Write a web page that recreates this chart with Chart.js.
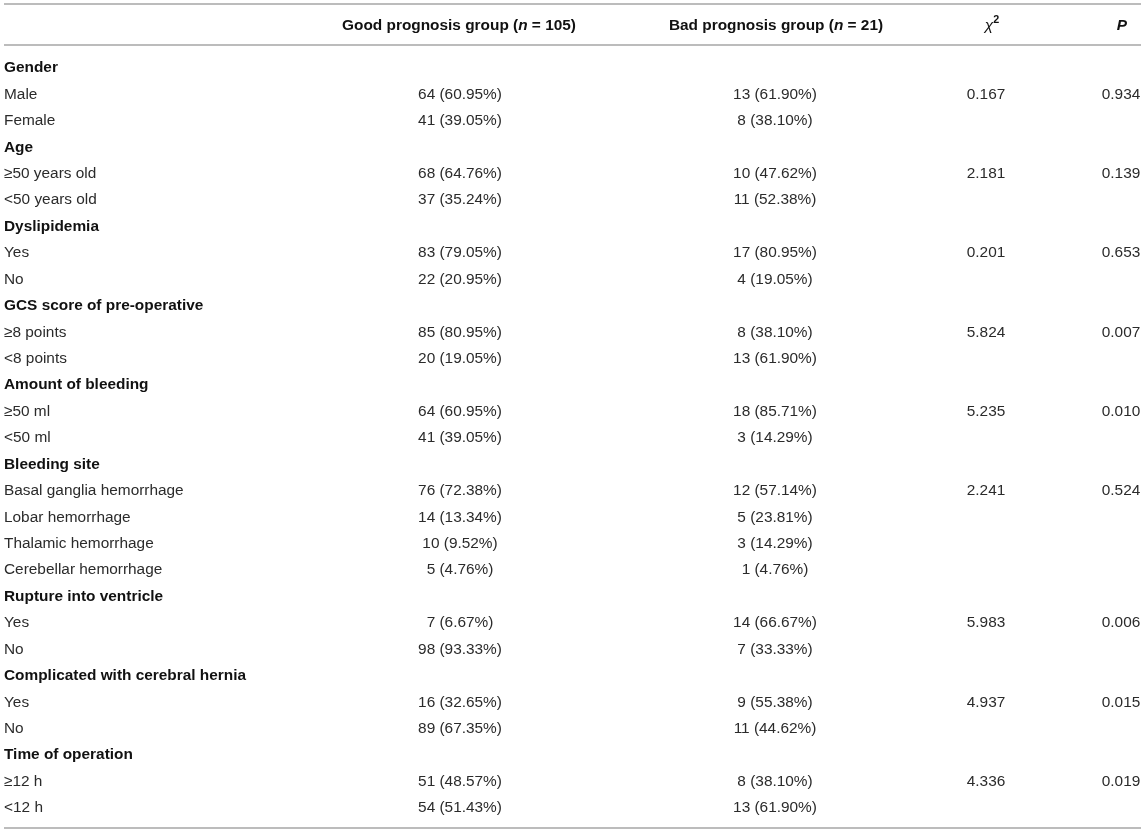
<!DOCTYPE html>
<html>
<head>
<meta charset="utf-8">
<script src="https://cdn.jsdelivr.net/npm/chart.js@4.4.0/dist/chart.umd.min.js"></script>
<style>
  html, body { margin: 0; padding: 0; background: #fff; font-family: Arial, "Liberation Sans", sans-serif; }
  #wrap { width: 1145px; height: 832px; position: relative; }
</style>
</head>
<body>
<div id="wrap"><canvas id="chart"></canvas></div>
<script>
// table rows (top to bottom)
const rowLabels = [
  "Gender", "Male", "Female",
  "Age", "≥50 years old", "<50 years old",
  "Dyslipidemia", "Yes", "No",
  "GCS score of pre-operative", "≥8 points", "<8 points",
  "Amount of bleeding", "≥50 ml", "<50 ml",
  "Bleeding site", "Basal ganglia hemorrhage", "Lobar hemorrhage", "Thalamic hemorrhage", "Cerebellar hemorrhage",
  "Rupture into ventricle", "Yes", "No",
  "Complicated with cerebral hernia", "Yes", "No",
  "Time of operation", "≥12 h", "<12 h"
];
const headingRows = [0, 3, 6, 9, 12, 15, 20, 23, 26];

const goodCount = [null, 64, 41, null, 68, 37, null, 83, 22, null, 85, 20, null, 64, 41, null, 76, 14, 10, 5, null, 7, 98, null, 16, 89, null, 51, 54];
const goodPct   = [null, 60.95, 39.05, null, 64.76, 35.24, null, 79.05, 20.95, null, 80.95, 19.05, null, 60.95, 39.05, null, 72.38, 13.34, 9.52, 4.76, null, 6.67, 93.33, null, 32.65, 67.35, null, 48.57, 51.43];
const badCount  = [null, 13, 8, null, 10, 11, null, 17, 4, null, 8, 13, null, 18, 3, null, 12, 5, 3, 1, null, 14, 7, null, 9, 11, null, 8, 13];
const badPct    = [null, 61.90, 38.10, null, 47.62, 52.38, null, 80.95, 19.05, null, 38.10, 61.90, null, 85.71, 14.29, null, 57.14, 23.81, 14.29, 4.76, null, 66.67, 33.33, null, 55.38, 44.62, null, 38.10, 61.90];
const chiSq     = [null, 0.167, null, null, 2.181, null, null, 0.201, null, null, 5.824, null, null, 5.235, null, null, 2.241, null, null, null, null, 5.983, null, null, 4.937, null, null, 4.336, null];
const pValue    = [null, 0.934, null, null, 0.139, null, null, 0.653, null, null, 0.007, null, null, 0.010, null, null, 0.524, null, null, null, null, 0.006, null, null, 0.015, null, null, 0.019, null];

const goodTotal = 105;
const badTotal = 21;

// layout (row units on y, pixels on x)
const colX = { label: 4, good: 460, bad: 775, chi: 986, p: 1121 };
const headerRow = -1.6;
const ruleRows = [-2.42, -0.87, 28.75];
const FONT = "Arial, 'Liberation Sans', Helvetica, sans-serif";
const SIZE = 15.4;

const fmtCell = (n, pct) => n == null ? "" : n + " (" + pct.toFixed(2) + "%)";
const fmtNum = v => v == null ? "" : v.toFixed(3);

function pointsFor(x, texts) {
  return texts.map((t, i) => ({ x: x, y: i, text: t })).filter(d => d.text !== "");
}

const datasets = [
  { label: "label", align: "left", data: rowLabels.map((t, i) => ({ x: colX.label, y: i, text: t, bold: headingRows.includes(i) })) },
  { label: "good", align: "center", data: pointsFor(colX.good, goodCount.map((n, i) => fmtCell(n, goodPct[i]))) },
  { label: "bad", align: "center", data: pointsFor(colX.bad, badCount.map((n, i) => fmtCell(n, badPct[i]))) },
  { label: "chi", align: "center", data: pointsFor(colX.chi, chiSq.map(fmtNum)) },
  { label: "p", align: "center", data: pointsFor(colX.p, pValue.map(fmtNum)) }
].map(d => Object.assign(d, { pointRadius: 0, pointHoverRadius: 0, showLine: false }));

// draws a list of text segments centered at x
function drawSegments(ctx, segs, x, y) {
  let total = 0;
  segs.forEach(s => { ctx.font = s.font; total += ctx.measureText(s.text).width; });
  let cx = x - total / 2;
  segs.forEach(s => {
    ctx.font = s.font;
    ctx.textAlign = "left";
    ctx.fillText(s.text, cx, y + (s.dy || 0));
    cx += ctx.measureText(s.text).width;
  });
}

const tablePlugin = {
  id: "tableText",
  afterDatasetsDraw(chart) {
    const ctx = chart.ctx;
    const xs = chart.scales.x, ys = chart.scales.y;
    ctx.save();
    ctx.textBaseline = "middle";

    // rules
    ctx.strokeStyle = "#bcbcbc";
    ctx.lineWidth = 2;
    ruleRows.forEach(r => {
      const py = Math.round(ys.getPixelForValue(r));
      ctx.beginPath();
      ctx.moveTo(xs.getPixelForValue(4), py);
      ctx.lineTo(xs.getPixelForValue(1141), py);
      ctx.stroke();
    });

    // header
    const hy = ys.getPixelForValue(headerRow);
    const B = "bold " + SIZE + "px " + FONT, BI = "italic bold " + SIZE + "px " + FONT;
    const I = "italic " + SIZE + "px " + FONT;
    ctx.fillStyle = "#111";
    drawSegments(ctx, [{ text: "Good prognosis group (", font: B }, { text: "n", font: BI }, { text: " = " + goodTotal + ")", font: B }], xs.getPixelForValue(colX.good - 1), hy);
    drawSegments(ctx, [{ text: "Bad prognosis group (", font: B }, { text: "n", font: BI }, { text: " = " + badTotal + ")", font: B }], xs.getPixelForValue(colX.bad + 1), hy);
    drawSegments(ctx, [{ text: "χ", font: I }, { text: "2", font: "bold " + (SIZE * 0.7) + "px " + FONT, dy: -6 }], xs.getPixelForValue(colX.chi + 6), hy);
    drawSegments(ctx, [{ text: "P", font: BI }], xs.getPixelForValue(colX.p + 1), hy);

    // cells
    chart.data.datasets.forEach((ds, di) => {
      const meta = chart.getDatasetMeta(di);
      meta.data.forEach((el, i) => {
        const d = ds.data[i];
        ctx.font = (d.bold ? "bold " : "") + SIZE + "px " + FONT;
        ctx.fillStyle = d.bold ? "#111" : "#2b2b2b";
        ctx.textAlign = ds.align;
        ctx.fillText(d.text, el.x, el.y);
      });
    });
    ctx.restore();
  }
};

function build() {
  new Chart(document.getElementById("chart"), {
    type: "scatter",
    data: { datasets: datasets },
    options: {
      responsive: true,
      maintainAspectRatio: false,
      animation: false,
      events: [],
      layout: { padding: 0 },
      plugins: { legend: { display: false }, tooltip: { enabled: false } },
      scales: {
        x: { type: "linear", display: false, min: 0, max: 1145 },
        y: { type: "linear", display: false, reverse: true, min: -2.573, max: 28.905 }
      }
    },
    plugins: [tablePlugin]
  });
}

Promise.all([
  document.fonts.load(SIZE + "px Arial"),
  document.fonts.load("bold " + SIZE + "px Arial"),
  document.fonts.load("italic bold " + SIZE + "px Arial")
]).then(build, build);
</script>
</body>
</html>
